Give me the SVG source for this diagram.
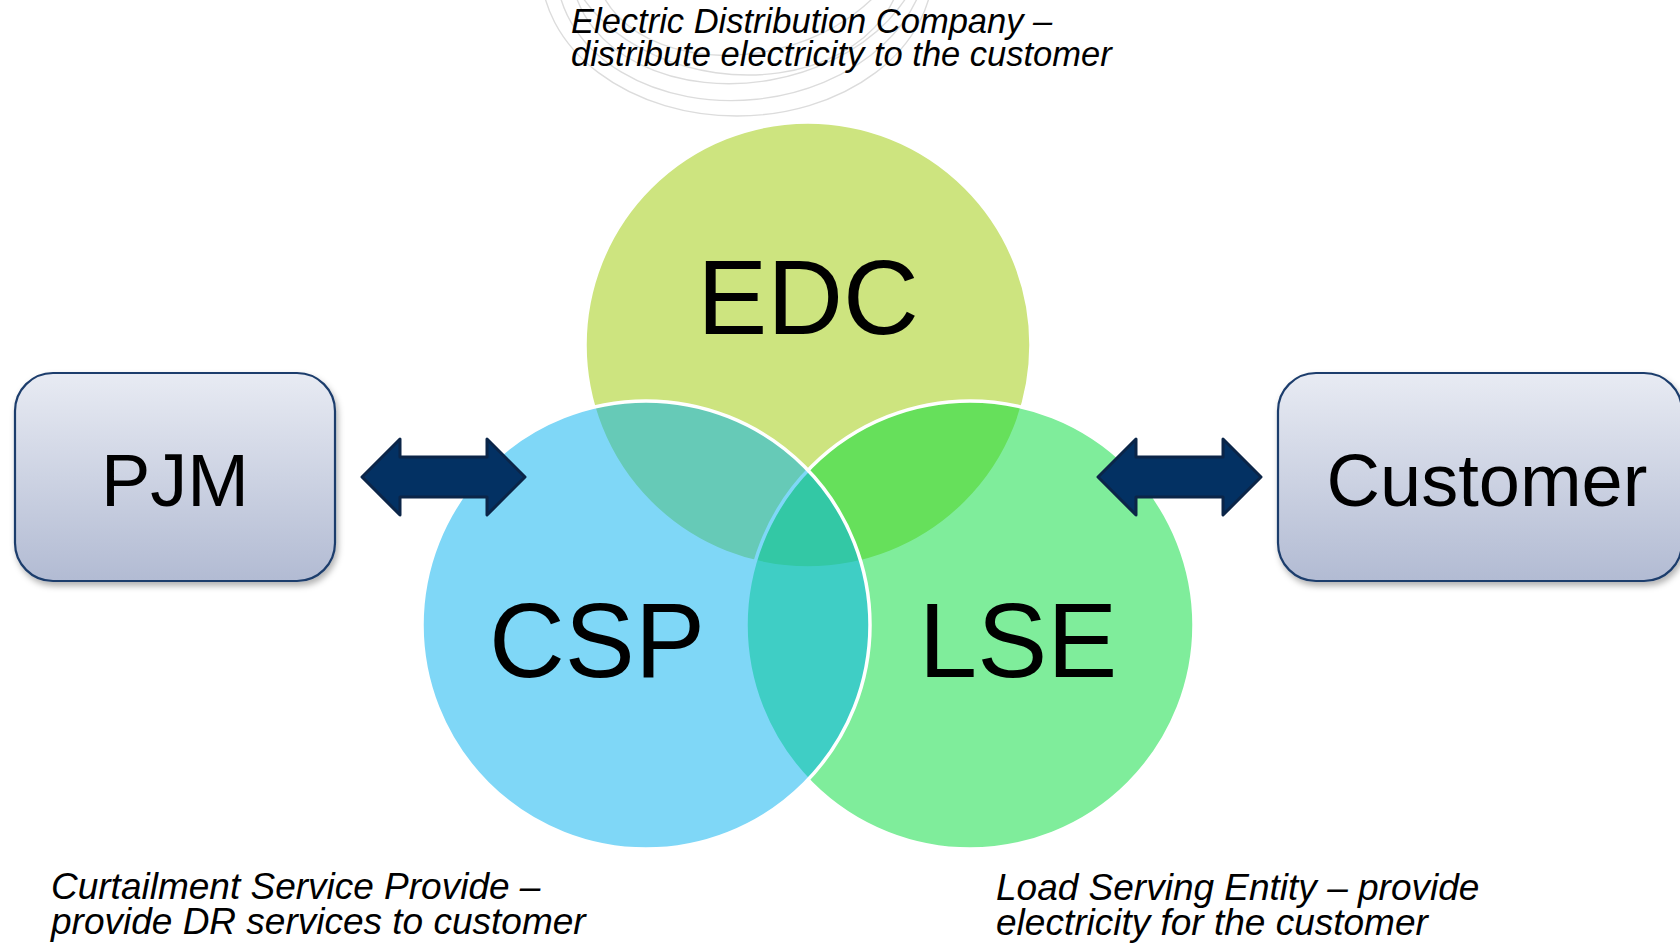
<svg xmlns="http://www.w3.org/2000/svg" width="1680" height="946" viewBox="0 0 1680 946">
  <defs>
    <linearGradient id="boxGrad" x1="0" y1="0" x2="0" y2="1">
      <stop offset="0" stop-color="#E8EBF3"/>
      <stop offset="1" stop-color="#B2BBD3"/>
    </linearGradient>
    <filter id="shadow" x="-10%" y="-10%" width="130%" height="130%">
      <feDropShadow dx="2" dy="4" stdDeviation="3" flood-color="#000" flood-opacity="0.3"/>
    </filter>
  </defs>
  <style>
    .desc { font-family: "Liberation Sans", Arial, sans-serif; font-style: italic; fill: #000; }
    .big { font-family: "Liberation Sans", Arial, sans-serif; fill: #000; text-anchor: middle; }
    .box { fill: url(#boxGrad); stroke: #1C3D6C; stroke-width: 2.2; filter: url(#shadow); }
    .venn { fill-opacity: 0.5; stroke: #FFFFFF; stroke-width: 3.5; }
    .arrow { fill: #033163; stroke: #0B2548; stroke-width: 3; stroke-linejoin: round; }
    .deco { fill: none; stroke: #DCDCDC; stroke-width: 1.4; }
  </style>
  <rect width="1680" height="946" fill="#FFFFFF"/>

  <g id="watermark">
    <ellipse class="deco" cx="737" cy="-32" rx="196" ry="148"/>
    <ellipse class="deco" cx="742" cy="-40" rx="186" ry="140" transform="rotate(-6 742 -40)"/>
    <ellipse class="deco" cx="748" cy="-48" rx="178" ry="130" transform="rotate(-10 748 -48)"/>
    <ellipse class="deco" cx="733" cy="-50" rx="170" ry="124" transform="rotate(8 733 -50)"/>
    <ellipse class="deco" cx="752" cy="-60" rx="160" ry="112" transform="rotate(-14 752 -60)"/>
  </g>

  <g id="venn-circles">
    <circle id="EDC-circle" class="venn" cx="808" cy="345" r="223" fill="#9BC900"/>
    <circle id="LSE-circle" class="venn" cx="970" cy="625" r="224" fill="#00DB37"/>
    <circle id="CSP-circle" class="venn" cx="646" cy="625" r="224" fill="#00AFEF"/>
  </g>

  <g id="EDC">
    <text class="big" x="808" y="334" font-size="105">EDC</text>
  </g>
  <g id="CSP">
    <text class="big" x="597" y="677" font-size="105">CSP</text>
  </g>
  <g id="LSE">
    <text class="big" x="1018" y="677" font-size="105">LSE</text>
  </g>

  <g id="PJM">
    <rect class="box" x="15" y="373" width="320" height="208" rx="38" ry="38"/>
    <text class="big" x="175" y="506" font-size="74">PJM</text>
  </g>
  <g id="Customer">
    <rect class="box" x="1278" y="373" width="404" height="208" rx="38" ry="38"/>
    <text class="big" x="1487" y="506" font-size="74">Customer</text>
  </g>

  <g id="connectors">
    <path class="arrow" d="M362,477 L400,439 L400,457 L487,457 L487,439 L525,477 L487,515 L487,497 L400,497 L400,515 Z"/>
    <path class="arrow" d="M1098,477 L1136,439 L1136,457 L1223,457 L1223,439 L1261,477 L1223,515 L1223,497 L1136,497 L1136,515 Z"/>
  </g>

  <g id="EDC-desc">
    <text class="desc" font-size="34.5"><tspan x="571" y="33">Electric Distribution Company –</tspan><tspan x="571" y="66">distribute electricity to the customer</tspan></text>
  </g>
  <g id="CSP-desc">
    <text class="desc" font-size="37"><tspan x="51" y="899">Curtailment Service Provide –</tspan><tspan x="51" y="934">provide DR services to customer</tspan></text>
  </g>
  <g id="LSE-desc">
    <text class="desc" font-size="37"><tspan x="996" y="900">Load Serving Entity – provide</tspan><tspan x="996" y="935">electricity for the customer</tspan></text>
  </g>
</svg>
